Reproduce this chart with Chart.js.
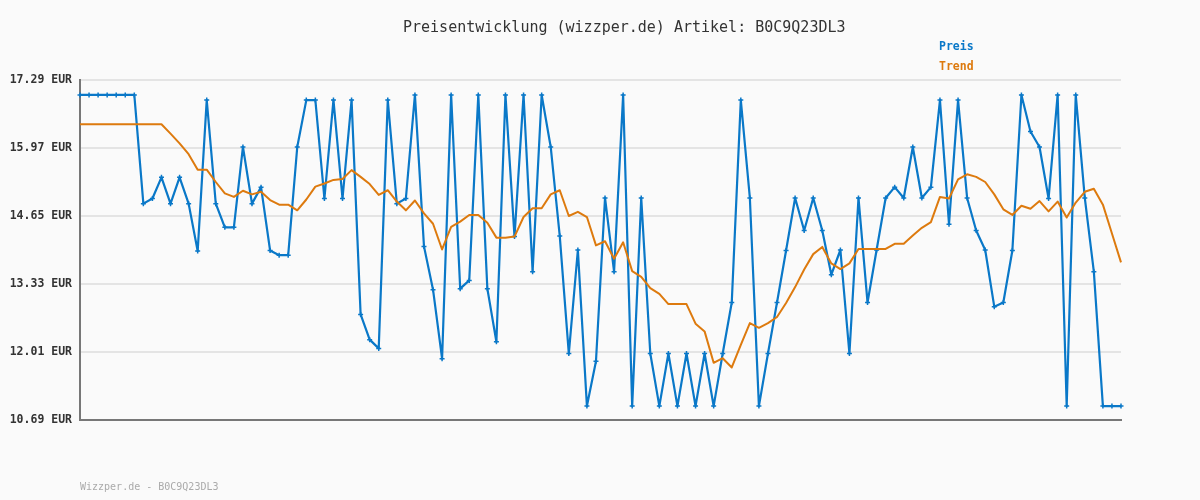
<!DOCTYPE html>
<html>
<head>
<meta charset="utf-8">
<script src="https://cdn.jsdelivr.net/npm/chart.js@4"></script>
<style>
  html, body { margin: 0; padding: 0; background: #fafafa; }
  #wrap { width: 1200px; height: 500px; }
</style>
</head>
<body>
<div id="wrap"><canvas id="preischart" width="1200" height="500"></canvas></div>
<script>
var preis = [
    17.00, 17.00, 17.00, 17.00, 17.00, 17.00, 17.00, 14.89, 14.99, 15.40,
    14.89, 15.40, 14.89, 13.97, 16.90, 14.89, 14.43, 14.43, 15.99, 14.89,
    15.21, 13.98, 13.89, 13.89, 15.99, 16.90, 16.90, 14.99, 16.90, 14.99,
    16.90, 12.74, 12.25, 12.08, 16.90, 14.89, 14.99, 17.00, 14.06, 13.22,
    11.88, 17.00, 13.24, 13.40, 17.00, 13.24, 12.21, 17.00, 14.25, 17.00,
    13.57, 17.00, 15.99, 14.26, 11.98, 13.99, 10.96, 11.83, 15.00, 13.57,
    17.00, 10.96, 15.00, 11.98, 10.96, 11.98, 10.96, 11.98, 10.96, 11.98,
    10.96, 11.98, 12.97, 16.90, 15.00, 10.96, 11.98, 12.97, 13.98, 15.00,
    14.37, 15.00, 14.37, 13.51, 13.99, 11.98, 15.00, 12.97, 13.99, 15.00,
    15.21, 15.00, 15.99, 15.00, 15.21, 16.90, 14.49, 16.90, 15.00, 14.37,
    13.99, 12.89, 12.97, 13.98, 17.00, 16.29, 15.99, 14.99, 17.00, 10.96,
    17.00, 15.00, 13.57, 10.96, 10.96, 10.96
];
var trend = [
    16.43, 16.43, 16.43, 16.43, 16.43, 16.43, 16.43, 16.43, 16.43, 16.43,
    16.25, 16.06, 15.85, 15.55, 15.55, 15.31, 15.09, 15.02, 15.14, 15.07,
    15.12, 14.96, 14.87, 14.87, 14.76, 14.97, 15.22, 15.28, 15.35, 15.37,
    15.54, 15.41, 15.27, 15.06, 15.15, 14.93, 14.76, 14.95, 14.70, 14.50,
    14.00, 14.44, 14.54, 14.67, 14.67, 14.52, 14.23, 14.23, 14.25, 14.63,
    14.80, 14.80, 15.07, 15.15, 14.65, 14.73, 14.63, 14.08, 14.16, 13.82,
    14.14, 13.58, 13.47, 13.25, 13.14, 12.94, 12.94, 12.94, 12.56, 12.41,
    11.80, 11.89, 11.71, 12.15, 12.57, 12.48, 12.57, 12.69, 12.96, 13.27,
    13.61, 13.91, 14.05, 13.73, 13.62, 13.73, 14.01, 14.01, 14.01, 14.01,
    14.11, 14.11, 14.27, 14.42, 14.53, 15.02, 14.99, 15.36, 15.46, 15.41,
    15.31, 15.07, 14.78, 14.67, 14.85, 14.79, 14.94, 14.74, 14.93, 14.62,
    14.91, 15.12, 15.18, 14.87, 14.31, 13.75
];
var yTicks = [10.69, 12.01, 13.33, 14.65, 15.97, 17.29];
var tage = preis.map(function(v, i) { return String(i + 1); });

var titel = 'Preisentwicklung (wizzper.de) Artikel: B0C9Q23DL3';
var fussnote = 'Wizzper.de - B0C9Q23DL3';
var mono = '"DejaVu Sans Mono", "Liberation Mono", monospace';

// titel, legende und fussnote direkt auf den canvas
var textPlugin = {
    id: 'texte',
    afterDraw: function(chart) {
        var c = chart.ctx;
        c.save();
        c.textBaseline = 'middle';
        c.textAlign = 'left';
        c.fillStyle = '#333333';
        c.font = '15px ' + mono;
        c.fillText(titel, 403, 28);
        c.font = 'bold 11.5px ' + mono;
        c.fillStyle = '#0a78c8';
        c.fillText('Preis', 939, 47);
        c.fillStyle = '#dd7a0e';
        c.fillText('Trend', 939, 67);
        c.font = '10px ' + mono;
        c.fillStyle = '#aaaaaa';
        c.fillText(fussnote, 80, 487);
        c.restore();
    }
};

window.onload = function() {
    var ctx = document.getElementById('preischart').getContext('2d');
    window.preischart = new Chart(ctx, {
        type: 'line',
        data: {
            labels: tage,
            datasets: [{
                label: 'Trend',
                data: trend,
                borderColor: '#dd7a0e',
                borderWidth: 2,
                borderJoinStyle: 'round',
                pointRadius: 0,
                tension: 0
            }, {
                label: 'Preis',
                data: preis,
                borderColor: '#0a78c8',
                backgroundColor: '#0a78c8',
                borderWidth: 2.2,
                borderJoinStyle: 'round',
                pointStyle: 'cross',
                pointRadius: 2.5,
                pointBorderWidth: 1.5,
                tension: 0
            }]
        },
        options: {
            responsive: false,
            animation: false,
            layout: { padding: { top: 80, right: 79, bottom: 80, left: 0 } },
            plugins: {
                legend: { display: false },
                title: { display: false },
                tooltip: { enabled: false }
            },
            scales: {
                x: {
                    offset: false,
                    ticks: { display: false },
                    grid: { display: false, drawTicks: false },
                    border: { display: true, color: '#777777', width: 2 },
                    afterFit: function(scale) { scale.height = 0; }
                },
                y: {
                    min: 10.69,
                    max: 17.29,
                    afterBuildTicks: function(scale) {
                        scale.ticks = yTicks.map(function(v) { return { value: v }; });
                    },
                    afterFit: function(scale) { scale.width = 80; },
                    ticks: {
                        padding: 8,
                        color: '#333333',
                        font: { family: mono, size: 11.5, weight: 'bold' },
                        callback: function(v) { return Number(v).toFixed(2) + ' EUR'; }
                    },
                    grid: { color: '#e4e4e4', lineWidth: 2, drawTicks: false },
                    border: { display: true, color: '#777777', width: 2 }
                }
            }
        },
        plugins: [textPlugin]
    });
};
</script>
</body>
</html>
